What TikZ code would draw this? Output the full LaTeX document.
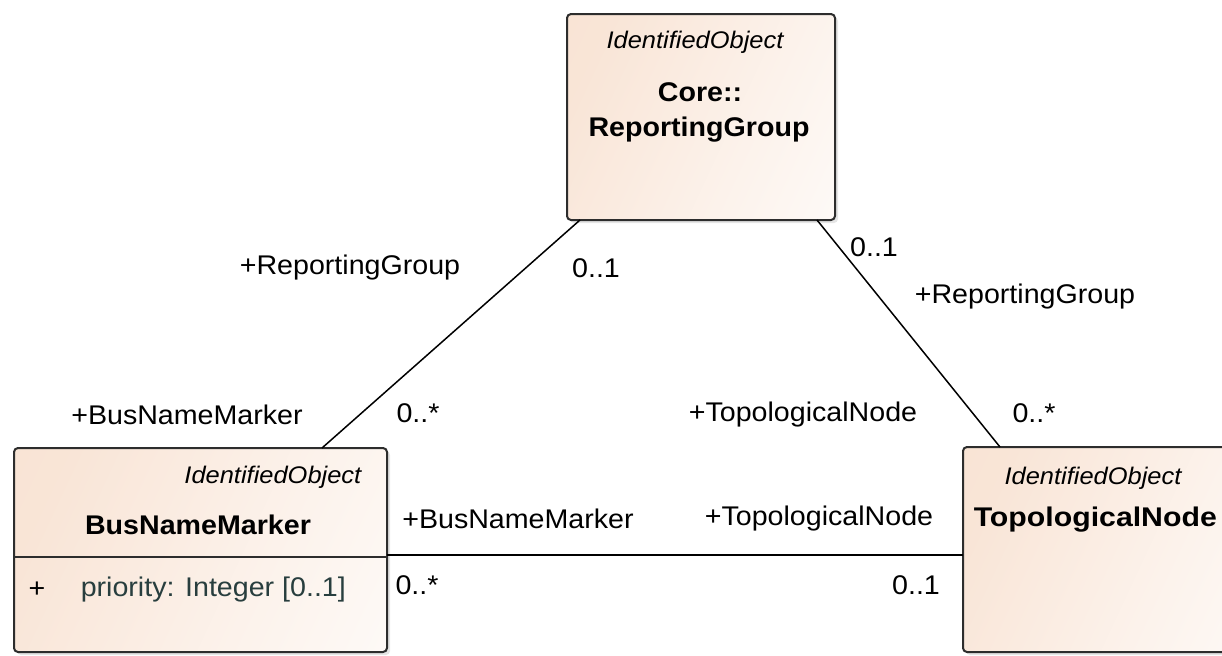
\documentclass[tikz,border=0pt]{standalone}
\usepackage{fontspec}
\setmainfont[FakeStretch=1.06]{Liberation Sans}
\usetikzlibrary{shadows}
\definecolor{classfill}{RGB}{248,226,210}
\definecolor{classline}{RGB}{45,45,45}
\definecolor{attrtext}{RGB}{40,62,62}
\pgfdeclarehorizontalshading{classshade}{100bp}{color(0bp)=(classfill); color(25bp)=(classfill!90!white); color(60bp)=(classfill!45!white); color(100bp)=(white)}

\begin{document}
\begin{tikzpicture}[x=0.5pt,y=-0.5pt,line width=0.75pt,
    classbox/.style={draw=classline,line width=1pt,rounded corners=2pt,
      inner sep=0pt,outer sep=0pt,
      shading=classshade,shading angle=-25,
      drop shadow={shadow xshift=1.5pt,shadow yshift=-1.5pt,opacity=0.2}},
    role/.style={font=\fontsize{13.5}{16}\selectfont,inner sep=0pt},
    stereo/.style={font=\fontsize{12}{14}\selectfont\itshape,inner sep=0pt},
    cname/.style={font=\fontsize{13.5}{16}\selectfont\bfseries,inner sep=0pt}]
  \clip (0,0) rectangle (1222,655);
  \fill[white] (0,0) rectangle (1222,655);
  % classes
  \node[classbox,minimum width=134pt,minimum height=103pt] (rg) at (701,117) {};
  \node[classbox,minimum width=186.5pt,minimum height=102pt] (bnm) at (200.5,550) {};
  \node[classbox,minimum width=148.5pt,minimum height=102.5pt] (tn) at (1111.5,549.5) {};
  \draw[classline,line width=1pt] (bnm.west |- 0,557) -- (bnm.east |- 0,557);
  \node[stereo] (rgst) at (695,42) {IdentifiedObject};
  \node[cname] (rgpk) at (700,92) {Core::};
  \node[cname] (rgnm) at (699,130) {ReportingGroup};
  \node[stereo,anchor=east] (bnmst) at (362,477) {IdentifiedObject};
  \node[cname] (bnmnm) at (198,525) {BusNameMarker};
  \node[role] (bnmvis) at (37,590) {+};
  \node[role,anchor=west,text=attrtext] (bnmattr) at (80,590) {priority: Integer [0..1]};
  \node[stereo] (tnst) at (1093,478) {IdentifiedObject};
  \node[cname,anchor=west] (tnnm) at (973,520) {\addfontfeature{FakeStretch=1.12}TopologicalNode};
  % associations
  \draw ([xshift=6.5pt]rg.south west) -- ([xshift=-32.5pt]bnm.north east);
  \draw ([xshift=-9pt]rg.south east) -- ([xshift=18.5pt]tn.north west);
  \draw ([yshift=-2.5pt]bnm.east) -- ([yshift=-2.5pt]bnm.east -| tn.west);
  % ends
  \node[role] (rgrole1) at (350,268) {+ReportingGroup};
  \node[role] (rgmul1) at (596,268) {0..1};
  \node[role] (rgmul2) at (874,247) {0..1};
  \node[role] (rgrole2) at (1025,297) {+ReportingGroup};
  \node[role] (bnmrole1) at (187,415) {+BusNameMarker};
  \node[role] (bnmmul1) at (418,413) {0..*};
  \node[role] (tnrole1) at (803,415) {+TopologicalNode};
  \node[role] (tnmul1) at (1034,413) {0..*};
  \node[role] (bnmrole2) at (518,519) {+BusNameMarker};
  \node[role] (tnrole2) at (819,519) {+TopologicalNode};
  \node[role] (bnmmul2) at (417,585) {0..*};
  \node[role] (tnmul2) at (916,585) {0..1};
\end{tikzpicture}
\end{document}
